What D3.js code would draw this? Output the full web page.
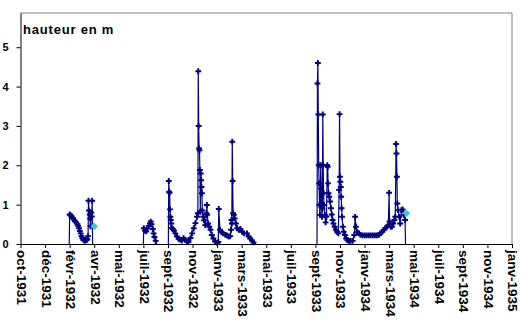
<!DOCTYPE html>
<html>
<head>
<meta charset="utf-8">
<script src="https://cdn.jsdelivr.net/npm/d3@7"></script>
<style>
  body { margin: 0; background: #fff; }
  svg { display: block; }
  text { font-family: "Liberation Sans", Arial, sans-serif; font-weight: bold; fill: #000; }
</style>
</head>
<body>
<svg id="chart" width="522" height="326"></svg>
<script>
// Hauteur d'eau relevée (m) — chaque campagne de mesures est un segment séparé
const campagneHiver1932 = [
  ["1932-01-31", 0], ["1932-02-01", 0.75], ["1932-02-03", 0.73], ["1932-02-06", 0.70],
  ["1932-02-09", 0.66], ["1932-02-11", 0.62], ["1932-02-14", 0.58], ["1932-02-17", 0.55],
  ["1932-02-20", 0.50], ["1932-02-22", 0.46], ["1932-02-24", 0.40], ["1932-02-26", 0.33],
  ["1932-02-28", 0.27], ["1932-03-01", 0.20], ["1932-03-03", 0.15], ["1932-03-05", 0.11],
  ["1932-03-08", 0.09], ["1932-03-10", 0.09], ["1932-03-13", 0.10], ["1932-03-15", 0.12],
  ["1932-03-17", 0.20], ["1932-03-18", 1.10], ["1932-03-19", 0.85], ["1932-03-21", 0.75],
  ["1932-03-22", 0.65], ["1932-03-23", 0.45], ["1932-03-25", 0.80], ["1932-03-26", 0.70],
  ["1932-03-27", 1.10], ["1932-03-28", 0]
];

const campagneEte1932 = [
  ["1932-07-30", 0], ["1932-07-31", 0.40], ["1932-08-03", 0.34], ["1932-08-06", 0.32],
  ["1932-08-09", 0.40], ["1932-08-12", 0.46], ["1932-08-15", 0.52], ["1932-08-17", 0.57],
  ["1932-08-19", 0.50], ["1932-08-22", 0.38], ["1932-08-24", 0.27], ["1932-08-26", 0.18],
  ["1932-08-29", 0.08], ["1932-08-31", 0]
];

const campagne1932_1933 = [
  ["1932-09-29", 0], ["1932-09-30", 1.60], ["1932-10-01", 1.33], ["1932-10-02", 1.30],
  ["1932-10-03", 0.88], ["1932-10-04", 0.69], ["1932-10-05", 0.61], ["1932-10-06", 0.52],
  ["1932-10-07", 0.41], ["1932-10-10", 0.38], ["1932-10-13", 0.34], ["1932-10-16", 0.27],
  ["1932-10-20", 0.19], ["1932-10-24", 0.13], ["1932-10-28", 0.11], ["1932-11-01", 0.09],
  ["1932-11-05", 0.15], ["1932-11-09", 0.11], ["1932-11-13", 0.06], ["1932-11-17", 0.05],
  ["1932-11-22", 0.15], ["1932-11-26", 0.27], ["1932-11-30", 0.40], ["1932-12-04", 0.53],
  ["1932-12-08", 0.69], ["1932-12-10", 0.78], ["1932-12-11", 4.39], ["1932-12-12", 3.00],
  ["1932-12-13", 2.43], ["1932-12-14", 2.38], ["1932-12-15", 1.88], ["1932-12-16", 0.82],
  ["1932-12-17", 1.79], ["1932-12-18", 1.62], ["1932-12-19", 1.45], ["1932-12-20", 1.29],
  ["1932-12-21", 0.85], ["1932-12-23", 0.69], ["1932-12-25", 0.60], ["1932-12-28", 0.48],
  ["1932-12-31", 0.78], ["1933-01-01", 0.99], ["1933-01-02", 0.74], ["1933-01-04", 0.52],
  ["1933-01-07", 0.44], ["1933-01-10", 0.36], ["1933-01-13", 0.23], ["1933-01-17", 0.14],
  ["1933-01-21", 0.06], ["1933-01-26", 0.03], ["1933-01-29", 0.05], ["1933-01-30", 0.89],
  ["1933-02-02", 0.36], ["1933-02-06", 0.30], ["1933-02-10", 0.27], ["1933-02-15", 0.23],
  ["1933-02-19", 0.22], ["1933-02-23", 0.19], ["1933-02-27", 0.20], ["1933-03-01", 0.36],
  ["1933-03-02", 0.61], ["1933-03-03", 0.52], ["1933-03-04", 2.60], ["1933-03-05", 1.60],
  ["1933-03-06", 0.78], ["1933-03-08", 0.74], ["1933-03-10", 0.65], ["1933-03-13", 0.52],
  ["1933-03-16", 0.40], ["1933-03-20", 0.36], ["1933-03-24", 0.38], ["1933-03-28", 0.31],
  ["1933-04-02", 0.27], ["1933-04-09", 0.27], ["1933-04-13", 0.19], ["1933-04-17", 0.14],
  ["1933-04-21", 0.09], ["1933-04-25", 0.04], ["1933-04-30", 0]
];

const campagne1933_1934 = [
  ["1933-09-27", 0], ["1933-09-28", 4.08], ["1933-09-29", 4.60], ["1933-09-30", 3.29],
  ["1933-10-01", 2.00], ["1933-10-02", 1.54], ["1933-10-03", 0.99], ["1933-10-04", 0.74],
  ["1933-10-05", 1.00], ["1933-10-06", 2.00], ["1933-10-07", 1.41], ["1933-10-08", 0.99],
  ["1933-10-09", 0.69], ["1933-10-10", 0.90], ["1933-10-11", 3.29], ["1933-10-12", 2.00],
  ["1933-10-13", 1.29], ["1933-10-14", 0.99], ["1933-10-16", 0.74], ["1933-10-18", 0.55],
  ["1933-10-20", 0.70], ["1933-10-22", 2.00], ["1933-10-23", 1.96], ["1933-10-24", 1.54],
  ["1933-10-25", 1.29], ["1933-10-27", 1.20], ["1933-10-29", 1.08], ["1933-10-31", 0.91],
  ["1933-11-02", 0.75], ["1933-11-04", 0.61], ["1933-11-06", 0.52], ["1933-11-09", 0.44],
  ["1933-11-12", 0.36], ["1933-11-15", 0.31], ["1933-11-18", 0.27], ["1933-11-20", 1.37],
  ["1933-11-21", 3.30], ["1933-11-22", 1.71], ["1933-11-23", 1.58], ["1933-11-24", 1.45],
  ["1933-11-25", 1.20], ["1933-11-26", 0.91], ["1933-11-27", 0.69], ["1933-11-29", 0.44],
  ["1933-12-01", 0.31], ["1933-12-04", 0.23], ["1933-12-07", 0.14], ["1933-12-10", 0.10],
  ["1933-12-14", 0.08], ["1933-12-18", 0.08], ["1933-12-23", 0.08], ["1933-12-27", 0.23],
  ["1933-12-29", 0.69], ["1933-12-31", 0.44], ["1934-01-03", 0.31], ["1934-01-07", 0.27],
  ["1934-01-11", 0.23], ["1934-01-16", 0.22], ["1934-01-21", 0.22], ["1934-01-26", 0.22],
  ["1934-01-31", 0.22], ["1934-02-05", 0.22], ["1934-02-10", 0.22], ["1934-02-15", 0.22],
  ["1934-02-20", 0.22], ["1934-02-25", 0.23], ["1934-03-01", 0.27], ["1934-03-05", 0.31],
  ["1934-03-09", 0.36], ["1934-03-13", 0.40], ["1934-03-17", 0.44], ["1934-03-20", 0.48],
  ["1934-03-22", 1.30], ["1934-03-23", 0.57], ["1934-03-26", 0.44], ["1934-03-29", 0.44],
  ["1934-04-01", 0.52], ["1934-04-04", 0.61], ["1934-04-06", 0.69], ["1934-04-08", 2.54],
  ["1934-04-09", 2.30], ["1934-04-10", 1.71], ["1934-04-11", 1.03], ["1934-04-13", 0.86],
  ["1934-04-16", 0.69], ["1934-04-18", 0.52], ["1934-04-21", 0.86], ["1934-04-24", 0.88],
  ["1934-04-27", 0.74], ["1934-04-30", 0.61], ["1934-05-01", 0]
];

// Relevés ponctuels (second série)
const relevesPonctuels = [["1932-04-01", 0.45], ["1934-05-03", 0.78]];

// Axe des temps : un repère tous les 60 jours
const xStart = "1931-10-04";
const tickStepDays = 60;
const tickLabels = [
  "oct-1931", "déc-1931", "févr-1932", "avr-1932", "mai-1932", "juil-1932", "sept-1932",
  "nov-1932", "janv-1933", "mars-1933", "mai-1933", "juil-1933", "sept-1933", "nov-1933",
  "janv-1934", "mars-1934", "mai-1934", "juil-1934", "sept-1934", "nov-1934", "janv-1935"
];
const yTicks = [0, 1, 2, 3, 4, 5];
const yMax = 5.87;
const yTitle = "hauteur en m";

const parse = d3.utcParse("%Y-%m-%d");
const toPoints = arr => arr.map(([d, v]) => ({ date: parse(d), value: v }));
const segments = [campagneHiver1932, campagneEte1932, campagne1932_1933, campagne1933_1934].map(toPoints);
const extra = toPoints(relevesPonctuels);

const start = parse(xStart);
const tickDates = tickLabels.map((_, i) => d3.utcDay.offset(start, i * tickStepDays));

const plot = { left: 20.5, right: 512, top: 13, bottom: 244 };

const x = d3.scaleUtc()
  .domain([start, tickDates[tickDates.length - 1]])
  .range([plot.left, plot.right]);
const y = d3.scaleLinear().domain([0, yMax]).range([plot.bottom, plot.top]);

const svg = d3.select("#chart");
const NAVY = "#000080", CYAN = "#33CCCC";

// Cadre de la zone de tracé (haut et droite)
svg.append("path")
  .attr("d", `M${plot.left},${plot.top}H${plot.right}V${plot.bottom}`)
  .attr("fill", "none").attr("stroke", "#808080").attr("stroke-width", 1);

// Série principale
const line = d3.line().x(d => x(d.date)).y(d => y(d.value));
const gSeries = svg.append("g");
segments.forEach(seg => {
  gSeries.append("path")
    .attr("d", line(seg))
    .attr("fill", "none").attr("stroke", NAVY).attr("stroke-width", 1.2);
});
const cross = d3.symbol().type(d3.symbolCross).size(19);
segments.forEach(seg => {
  gSeries.selectAll(null)
    .data(seg.filter(d => d.value > 0))
    .enter().append("path")
    .attr("d", cross)
    .attr("transform", d => `translate(${x(d.date)},${y(d.value)})`)
    .attr("fill", NAVY);
});

// Relevés ponctuels en losanges
const diamond = d3.symbol().type(d3.symbolSquare).size(28);
svg.append("g").selectAll("path")
  .data(extra).enter().append("path")
  .attr("d", diamond)
  .attr("transform", d => `translate(${x(d.date)},${y(d.value)}) rotate(45)`)
  .attr("fill", CYAN);

// Axe vertical
const yAxis = svg.append("g")
  .attr("transform", `translate(${plot.left},0)`)
  .call(d3.axisLeft(y).tickValues(yTicks).tickFormat(d3.format("d")).tickSize(4).tickSizeOuter(0));
yAxis.select(".domain").attr("stroke", "#000");
yAxis.selectAll(".tick line").attr("stroke", "#000");
yAxis.selectAll(".tick text")
  .attr("x", -12)
  .style("font-size", "11px")
  .style("font-family", "'Liberation Sans', Arial, sans-serif")
  .style("font-weight", "bold");

// Axe horizontal
const xAxis = svg.append("g")
  .attr("transform", `translate(0,${plot.bottom})`)
  .call(d3.axisBottom(x).tickValues(tickDates).tickFormat((d, i) => tickLabels[i]).tickSize(4).tickSizeOuter(0));
xAxis.select(".domain").attr("stroke", "#000");
xAxis.selectAll(".tick line").attr("stroke", "#000");
xAxis.selectAll(".tick text")
  .attr("transform", "translate(0,6) rotate(90)")
  .attr("x", 0).attr("y", 0).attr("dy", "0.3em")
  .attr("text-anchor", "start")
  .style("font-size", "13.5px")
  .style("font-family", "'Liberation Sans', Arial, sans-serif")
  .style("font-weight", "bold");

// Titre de l'axe des hauteurs
svg.append("text")
  .attr("x", 23).attr("y", 34)
  .style("font-size", "13px")
  .style("letter-spacing", "0.8px")
  .text(yTitle);
</script>
</body>
</html>
